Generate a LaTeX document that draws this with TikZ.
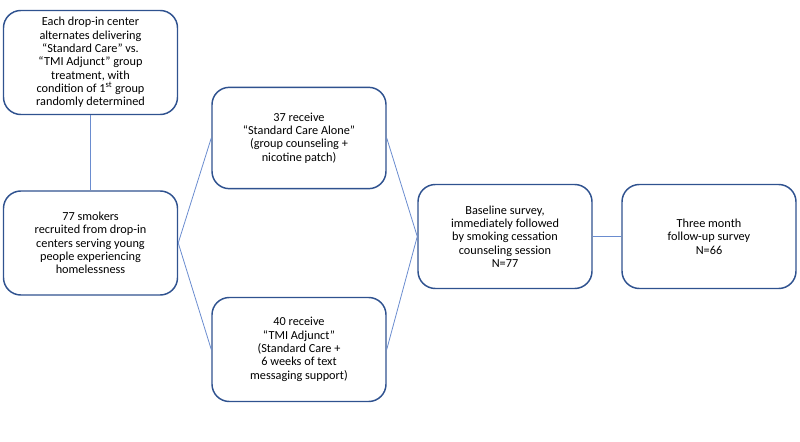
\documentclass[tikz,border=0pt]{standalone}
\usepackage{fontspec}
\setmainfont{Carlito}
\usetikzlibrary{positioning}
\definecolor{boxblue}{HTML}{2F528F}
\definecolor{lineblue}{HTML}{6A8CCF}
\tikzset{
  stagebox/.style={draw=boxblue,line width=1.1pt,rounded corners=13pt,align=center,
    minimum width=130.5pt,minimum height=78pt,inner sep=2pt,font=\fontsize{9.2}{10}\selectfont},
  link/.style={draw=lineblue,line width=0.6pt}
}
\begin{document}
\begin{tikzpicture}[x=0.75pt,y=-0.75pt]
        \useasboundingbox (0,0) rectangle (800,442);
        \node[stagebox] (assign) at (90.5,62.5) {Each drop-in center\\alternates delivering\\``Standard Care'' vs.\\``TMI Adjunct'' group\\treatment, with\\condition of 1\textsuperscript{st} group\\randomly determined};
        \node[stagebox] (recruit) at (90.5,243) {77 smokers\\recruited from drop-in\\centers serving young\\people experiencing\\homelessness};
        \node[stagebox,minimum height=76pt] (standard) at (299,138) {37 receive\\``Standard Care Alone''\\(group counseling +\\nicotine patch)};
        \node[stagebox] (adjunct) at (299,349.5) {40 receive\\``TMI Adjunct''\\(Standard Care +\\6 weeks of text\\messaging support)};
        \node[stagebox] (baseline) at (505,236.5) {Baseline survey,\\immediately followed\\by smoking cessation\\counseling session\\N=77};
        \node[stagebox] (followup) at (709,236.5) {Three month\\follow-up survey\\N=66};
        % connectors
        \draw[link] (assign) -- (recruit);
        \draw[link] (recruit.east) -- (standard.west);
        \draw[link] (recruit.east) -- (adjunct.west);
        \draw[link] (standard.east) -- (baseline.west);
        \draw[link] (adjunct.east) -- (baseline.west);
        \draw[link] (baseline) -- (followup);
      \end{tikzpicture}
\end{document}
